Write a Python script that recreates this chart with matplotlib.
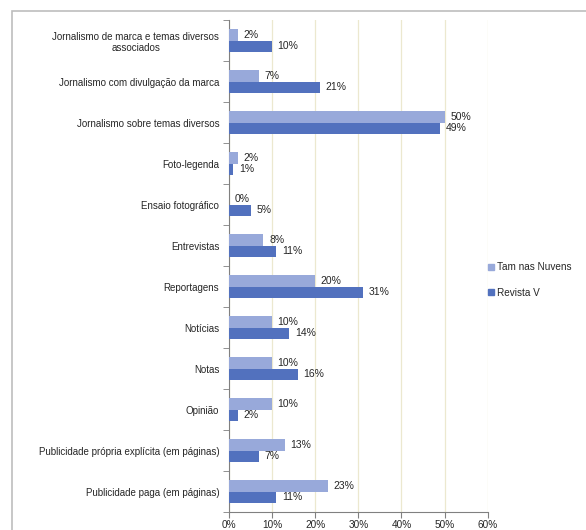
import matplotlib
matplotlib.use("Agg")
import matplotlib.pyplot as plt
import numpy as np
from matplotlib.patches import Rectangle, Patch

plt.rcParams['font.family'] = ['Liberation Sans', 'DejaVu Sans']

categories = [
    "Jornalismo de marca e temas diversos\nassociados",
    "Jornalismo com divulgação da marca",
    "Jornalismo sobre temas diversos",
    "Foto-legenda",
    "Ensaio fotográfico",
    "Entrevistas",
    "Reportagens",
    "Notícias",
    "Notas",
    "Opinião",
    "Publicidade própria explícita (em páginas)",
    "Publicidade paga (em páginas)",
]
tam_nas_nuvens = [2, 7, 50, 2, 0, 8, 20, 10, 10, 10, 13, 23]
revista_v = [10, 21, 49, 1, 5, 11, 31, 14, 16, 2, 7, 11]
xticks = [0, 10, 20, 30, 40, 50, 60]
series_names = ["Tam nas Nuvens", "Revista V"]

c_light = "#98A9DA"
c_dark = "#5271BE"
txt = "#262626"

fig = plt.figure(figsize=(5.86, 5.30), dpi=100)
fig.patches.append(Rectangle((12/586, -0.1), 1.2, 1 - 11/530 + 0.1, transform=fig.transFigure,
                             fill=False, edgecolor="#BDBDBD", linewidth=1.2, zorder=0))
ax = fig.add_axes([229/586, 1 - 512/530, (487.7 - 229)/586, (512 - 20)/530])

n = len(categories)
y = np.arange(n)
h = 0.27
ax.barh(y - h/2, tam_nas_nuvens, height=h, color=c_light, zorder=3, label=series_names[0])
ax.barh(y + h/2, revista_v, height=h, color=c_dark, zorder=3, label=series_names[1])

for i in range(n):
    ax.annotate(f"{tam_nas_nuvens[i]}%", (tam_nas_nuvens[i], y[i] - h/2), xytext=(4, 0),
                textcoords="offset points", va="center", ha="left", fontsize=7.5, color=txt)
    ax.annotate(f"{revista_v[i]}%", (revista_v[i], y[i] + h/2), xytext=(4, 0),
                textcoords="offset points", va="center", ha="left", fontsize=7.5, color=txt)

ax.set_ylim(n - 0.5, -0.5)
ax.set_xlim(0, 60)
ax.set_yticks(y)
ax.set_yticklabels(categories, fontsize=7.0, color=txt)
for lab in ax.get_yticklabels():
    lab.set_multialignment("center")
ax.tick_params(axis="y", which="major", length=0, pad=7)
ax.set_yticks(np.arange(-0.5, n, 1), minor=True)
ax.tick_params(axis="y", which="minor", length=4, direction="out", color="#808080")
ax.set_xticks(xticks)
ax.set_xticklabels([f"{v}%" for v in xticks], fontsize=7.2, color=txt)
ax.tick_params(axis="x", length=4, direction="out", color="#808080", pad=2)
ax.grid(axis="x", color="#ECE8CF", linewidth=0.9, zorder=0)
for s in ["top", "right"]:
    ax.spines[s].set_visible(False)
ax.spines["left"].set_color("#808080")
ax.spines["bottom"].set_color("#808080")

handles = [Patch(color=c_light), Patch(color=c_dark)]
fig.legend(handles, series_names, loc="center left", bbox_to_anchor=(479/586, 1 - 280/530),
           frameon=False, fontsize=7.2, handlelength=0.6, handleheight=0.6,
           handletextpad=0.3, labelspacing=1.5, labelcolor=txt)

fig.savefig("out.png", dpi=100)
